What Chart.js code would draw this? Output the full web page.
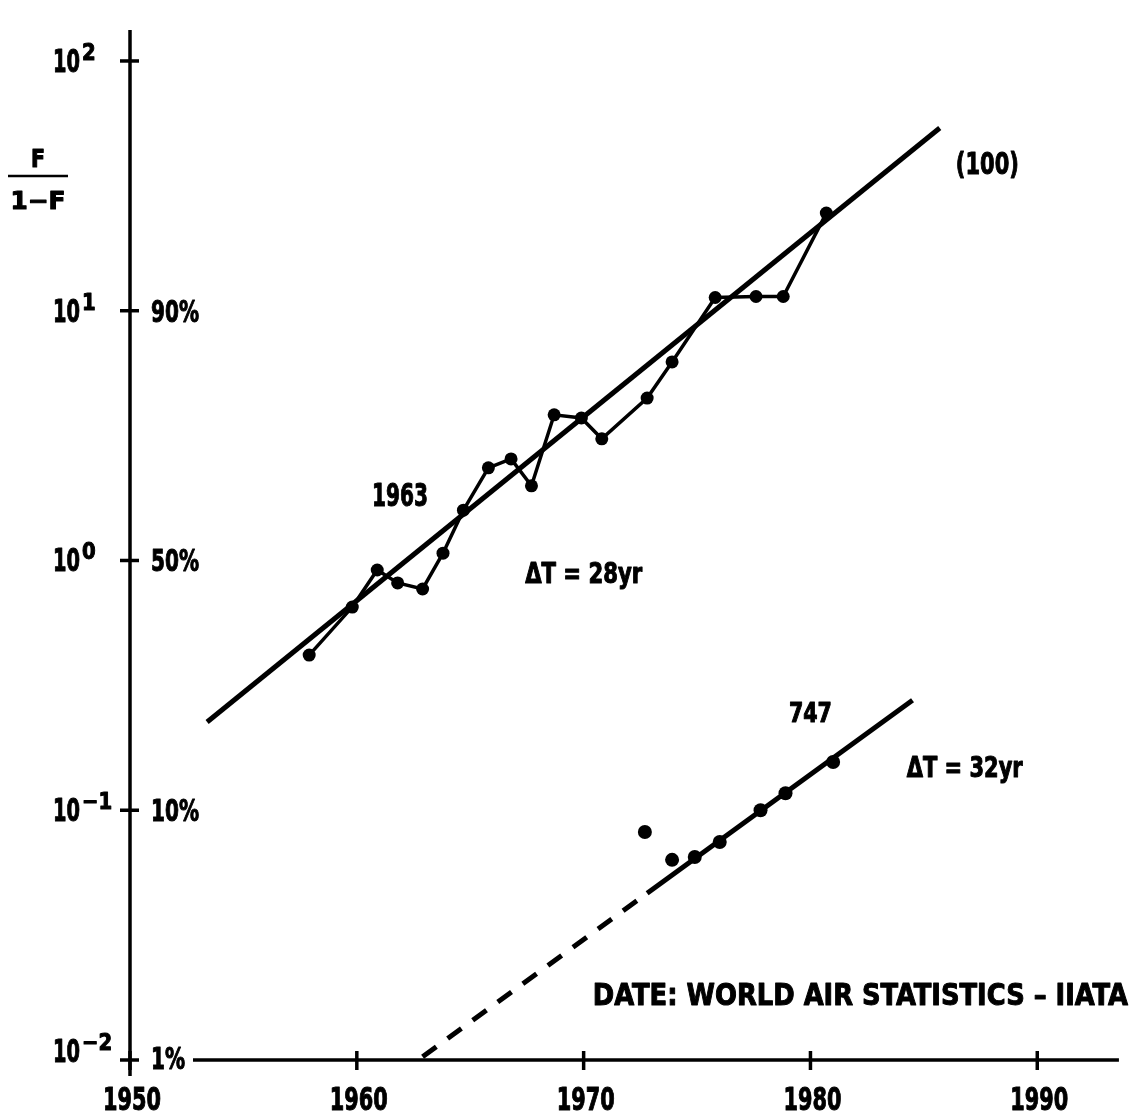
<!DOCTYPE html>
<html><head><meta charset="utf-8">
<script src="https://cdn.jsdelivr.net/npm/chart.js@4.4.1/dist/chart.umd.min.js"></script>
<style>html,body{margin:0;padding:0;background:#fff}canvas{display:block}</style>
</head><body>
<canvas id="c" width="1135" height="1115"></canvas>
<script>
// ---- data ----
const years100 = [1957.9,1959.8,1960.9,1961.8,1962.9,1963.8,1964.7,1965.8,1966.8,1967.7,1968.7,1969.9,1970.8,1972.8,1973.9,1975.8,1977.6,1978.8,1980.7];
const ratio100 = [0.418,0.651,0.916,0.813,0.769,1.07,1.59,2.35,2.55,1.99,3.83,3.72,3.07,4.47,6.24,11.3,11.4,11.4,24.6];
const fitYears100 = [1953.4,1985.7];
const fitRatio100 = [0.2256,53.9];

const years747 = [1972.7,1973.9,1974.9,1976.0,1977.8,1978.9,1981.0];
const ratio747 = [0.0818,0.0633,0.065,0.0746,0.100,0.117,0.156];
const fitYears747 = [1972.8,1984.5];
const fitRatio747 = [0.0465,0.2755];
const dashYears747 = [1962.9,1972.8];
const dashRatio747 = [0.0103,0.0465];

// ---- axis labels ----
const xTicks = [1950,1960,1970,1980,1990];
const yTickValues = [0.01,0.1,1,10,100];
const yTickExps = ['\u22122','\u22121','0','1','2'];
const pctValues = [0.01,0.1,1,10];
const pctLabels = ['1%','10%','50%','90%'];

const annotations = [
  {t:'(100)', x:1987.8, y:39.1, w:63, s:31},
  {t:'1963', x:1961.9, y:1.83, w:56, s:32},
  {t:'\u0394T = 28yr', x:1970.0, y:0.891, w:117, s:28},
  {t:'747', x:1980.0, y:0.246, w:43, s:27},
  {t:'\u0394T = 32yr', x:1986.8, y:0.149, w:116, s:28},
  {t:'DATE: WORLD AIR STATISTICS \u2013 IIATA', x:1982.2, y:0.01837, w:535, s:31}
];

const FONT = '"Liberation Sans Narrow","Arial Narrow","DejaVu Sans Condensed","Liberation Sans",sans-serif';

function pts(xs, ys){ return xs.map((x,i)=>({x:x,y:ys[i]})); }

function drawText(ctx, str, x, baseY, size, sx, align){
  ctx.save();
  ctx.font = 'bold ' + size + 'px ' + FONT;
  ctx.textBaseline = 'alphabetic';
  ctx.textAlign = 'left';
  const w = ctx.measureText(str).width * sx;
  let left = x;
  if (align === 'center') left = x - w/2;
  else if (align === 'right') left = x - w;
  ctx.translate(left, baseY);
  ctx.scale(sx, 1);
  ctx.lineWidth = 1.0;
  ctx.lineJoin = 'round';
  ctx.strokeText(str, 0, 0);
  ctx.fillText(str, 0, 0);
  ctx.restore();
  return w;
}
function scaleFor(ctx, sample, size, target){
  ctx.save();
  ctx.font = 'bold ' + size + 'px ' + FONT;
  const m = ctx.measureText(sample).width;
  ctx.restore();
  return target / m;
}

const axisPlugin = {
  id: 'handAxes',
  afterDraw(chart){
    const ctx = chart.ctx, xs = chart.scales.x, ys = chart.scales.y;
    ctx.save();
    ctx.strokeStyle = '#000'; ctx.fillStyle = '#000'; ctx.lineCap = 'butt';
    const x0 = xs.getPixelForValue(xTicks[0]);
    const yb = ys.getPixelForValue(yTickValues[0]);
    // y axis
    ctx.lineWidth = 3.5;
    ctx.beginPath(); ctx.moveTo(x0, ys.top - 1); ctx.lineTo(x0, yb + 16); ctx.stroke();
    // x axis (interrupted by the 1% label)
    ctx.beginPath(); ctx.moveTo(x0 + 63, yb); ctx.lineTo(xs.getPixelForValue(1993.6), yb); ctx.stroke();
    // y ticks (crosses)
    yTickValues.forEach(v => {
      const p = ys.getPixelForValue(v);
      ctx.beginPath(); ctx.moveTo(x0 - 10, p); ctx.lineTo(x0 + 9, p); ctx.stroke();
    });
    // x ticks
    xTicks.forEach(v => {
      const p = xs.getPixelForValue(v);
      ctx.beginPath(); ctx.moveTo(p, yb - 9); ctx.lineTo(p, yb + 10); ctx.stroke();
    });
    // x tick labels
    const sYear = scaleFor(ctx, '1950', 32, 58);
    xTicks.forEach(v => {
      drawText(ctx, String(v), xs.getPixelForValue(v) + 2, yb + 50, 32, sYear, 'center');
    });
    // y tick labels: 10^n
    const sTen = scaleFor(ctx, '10', 32, 27);
    yTickValues.forEach((v, i) => {
      const p = ys.getPixelForValue(v);
      const base = (i === 0) ? p + 2 : p + 11;
      const w = drawText(ctx, '10', x0 - 77, base, 32, sTen, 'left');
      drawText(ctx, yTickExps[i], x0 - 77 + w + 2, base - 12, 23, 0.95, 'left');
    });
    // percentage labels
    const sPct = scaleFor(ctx, '50%', 31, 48);
    pctValues.forEach((v, i) => {
      const p = ys.getPixelForValue(v);
      const base = (i === 0) ? p + 9 : p + 11;
      drawText(ctx, pctLabels[i], x0 + 21, base, 31, sPct, 'left');
    });
    // axis title F / (1-F)
    const sF1 = scaleFor(ctx, 'F', 24, 14);
    drawText(ctx, 'F', 38, 167, 24, sF1, 'center');
    ctx.lineWidth = 2.5;
    ctx.beginPath(); ctx.moveTo(8, 176); ctx.lineTo(68, 176); ctx.stroke();
    const sF = scaleFor(ctx, '1\u2212F', 24, 55);
    drawText(ctx, '1\u2212F', 38, 209, 24, sF, 'center');
    // annotations
    annotations.forEach(a => {
      const sx = scaleFor(ctx, a.t, a.s, a.w);
      const cy = ys.getPixelForValue(a.y);
      drawText(ctx, a.t, xs.getPixelForValue(a.x), cy + a.s * 0.36, a.s, sx, 'center');
    });
    ctx.restore();
  }
};

function build(){
  new Chart(document.getElementById('c'), {
    type: 'scatter',
    data: {
      datasets: [
        {label:'(100)', data: pts(years100, ratio100), showLine:true, borderColor:'#000', backgroundColor:'#000', borderWidth:3.5, pointRadius:6.5, pointBorderWidth:0, tension:0},
        {label:'fit 100', data: pts(fitYears100, fitRatio100), showLine:true, borderColor:'#000', borderWidth:5, pointRadius:0},
        {label:'747', data: pts(years747, ratio747), showLine:false, backgroundColor:'#000', borderColor:'#000', pointRadius:7, pointBorderWidth:0},
        {label:'fit 747', data: pts(fitYears747, fitRatio747), showLine:true, borderColor:'#000', borderWidth:5, pointRadius:0},
        {label:'fit 747 extrapolated', data: pts(dashYears747, dashRatio747), showLine:true, borderColor:'#000', borderWidth:5, borderDash:[17,14], pointRadius:0}
      ]
    },
    options: {
      responsive: false,
      animation: false,
      devicePixelRatio: 1,
      layout: { padding: { left: 130, right: 6, top: 31, bottom: 55 } },
      plugins: { legend: { display: false }, tooltip: { enabled: false } },
      scales: {
        x: { type: 'linear', min: 1950, max: 1994, display: false },
        y: { type: 'logarithmic', min: 0.01, max: Math.pow(10, 2.12), display: false }
      }
    },
    plugins: [axisPlugin]
  });
}

let built = false;
function once(){ if (!built) { built = true; build(); } }
if (document.fonts && document.fonts.load) {
  Promise.all([
    document.fonts.load('bold 32px "Liberation Sans Narrow"'),
    document.fonts.load('bold 32px "DejaVu Sans Condensed"')
  ]).then(once, once);
  setTimeout(once, 400);
} else {
  once();
}
</script>
</body></html>
